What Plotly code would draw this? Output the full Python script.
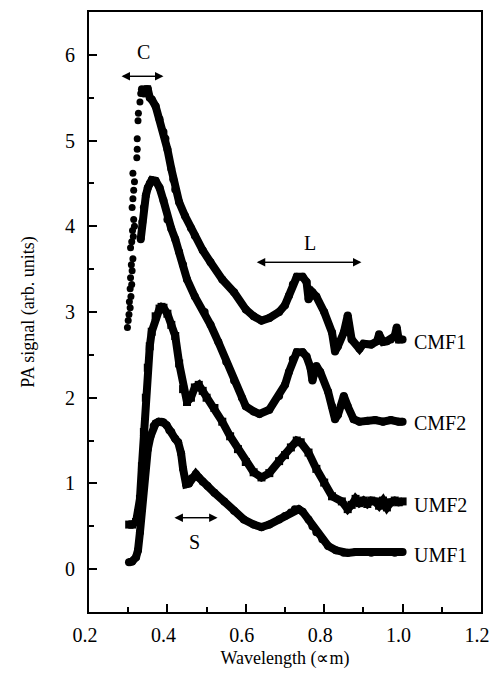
import plotly.graph_objects as go

# ---- data ----
cmf1_rise_x = [0.298, 0.300, 0.302, 0.305, 0.303, 0.307, 0.305, 0.309, 0.306, 0.310, 0.308, 0.312, 0.306,
               0.309, 0.313, 0.311, 0.316, 0.314, 0.310, 0.312, 0.314, 0.316, 0.312, 0.322, 0.323, 0.323,
               0.325, 0.326, 0.330, 0.332]
cmf1_rise_y = [2.82, 2.90, 2.97, 3.05, 3.12, 3.18, 3.27, 3.32, 3.40, 3.48, 3.55, 3.62, 3.75,
               3.82, 3.88, 3.95, 4.00, 4.08, 4.22, 4.32, 4.42, 4.52, 4.62, 4.80, 4.90, 5.02,
               5.23, 5.32, 5.45, 5.55]

cmf1_x = [0.335, 0.340, 0.346, 0.350, 0.355, 0.360, 0.370, 0.380, 0.390, 0.395, 0.400, 0.410, 0.415, 0.420,
          0.430, 0.445, 0.460, 0.470, 0.490, 0.510, 0.540, 0.570, 0.600, 0.620, 0.640, 0.660, 0.685, 0.700,
          0.710, 0.720, 0.730, 0.745, 0.755, 0.760, 0.770, 0.780, 0.800, 0.820, 0.8275, 0.835, 0.850, 0.860,
          0.870, 0.890, 0.900, 0.920, 0.935, 0.940, 0.950, 0.960, 0.970, 0.980, 0.985, 0.990, 1.000]
cmf1_y = [5.60, 5.55, 5.60, 5.60, 5.50, 5.48, 5.40, 5.25, 5.10, 5.02, 4.90, 4.67, 4.55, 4.43,
          4.28, 4.12, 3.98, 3.89, 3.72, 3.58, 3.38, 3.23, 3.03, 2.95, 2.90, 2.93, 3.00, 3.08,
          3.19, 3.32, 3.41, 3.41, 3.35, 3.15, 3.23, 3.18, 3.00, 2.76, 2.54, 2.60, 2.76, 2.96,
          2.68, 2.57, 2.63, 2.62, 2.66, 2.74, 2.65, 2.66, 2.68, 2.72, 2.82, 2.68, 2.68]

cmf2_x = [0.332, 0.336, 0.340, 0.345, 0.350, 0.355, 0.360, 0.370, 0.380, 0.390, 0.400, 0.410, 0.420,
          0.430, 0.440, 0.450, 0.470, 0.495, 0.510, 0.530, 0.550, 0.570, 0.590, 0.600, 0.620, 0.635, 0.660,
          0.685, 0.700, 0.710, 0.720, 0.730, 0.745, 0.755, 0.765, 0.770, 0.780, 0.790, 0.810, 0.820, 0.8275,
          0.835, 0.850, 0.860, 0.875, 0.890, 0.910, 0.930, 0.950, 0.970, 0.990, 1.000]
cmf2_y = [3.85, 4.05, 4.22, 4.36, 4.45, 4.50, 4.54, 4.53, 4.45, 4.30, 4.08, 3.97, 3.85,
          3.70, 3.55, 3.38, 3.18, 3.00, 2.85, 2.65, 2.42, 2.20, 2.00, 1.90, 1.84, 1.81, 1.86,
          2.02, 2.15, 2.30, 2.45, 2.53, 2.53, 2.48, 2.35, 2.20, 2.37, 2.30, 2.07, 1.90, 1.75,
          1.80, 2.02, 1.90, 1.75, 1.72, 1.73, 1.74, 1.72, 1.74, 1.72, 1.72]

umf2_x = [0.3025, 0.310, 0.320, 0.325, 0.330, 0.335, 0.340, 0.345, 0.350, 0.355, 0.360, 0.370, 0.380, 0.385,
          0.390, 0.400, 0.410, 0.420, 0.430, 0.440, 0.450, 0.460, 0.470, 0.480, 0.490, 0.500, 0.520, 0.540,
          0.560, 0.580, 0.600, 0.620, 0.640, 0.660, 0.685, 0.700, 0.715, 0.730, 0.740, 0.760, 0.780, 0.800,
          0.820, 0.845, 0.860, 0.870, 0.880, 0.890, 0.900, 0.910, 0.920, 0.930, 0.940, 0.950, 0.960, 0.970,
          0.980, 0.990, 1.000]
umf2_y = [0.52, 0.52, 0.55, 0.65, 0.82, 1.20, 1.60, 2.00, 2.35, 2.60, 2.77, 2.95, 3.04, 3.06,
          3.05, 2.98, 2.85, 2.72, 2.40, 2.10, 1.95, 2.00, 2.12, 2.15, 2.08, 2.00, 1.88, 1.72,
          1.55, 1.40, 1.25, 1.13, 1.07, 1.12, 1.26, 1.33, 1.42, 1.50, 1.48, 1.36, 1.17, 1.01,
          0.85, 0.79, 0.70, 0.75, 0.82, 0.77, 0.80, 0.76, 0.80, 0.79, 0.74, 0.80, 0.72, 0.78,
          0.80, 0.78, 0.79]

umf1_x = [0.302, 0.310, 0.320, 0.325, 0.330, 0.335, 0.340, 0.345, 0.350, 0.357, 0.365, 0.370, 0.378, 0.385,
          0.390, 0.398, 0.405, 0.410, 0.420, 0.4275, 0.435, 0.440, 0.4475, 0.455, 0.462, 0.4725, 0.480, 0.490,
          0.5025, 0.520, 0.545, 0.570, 0.595, 0.620, 0.640, 0.660, 0.685, 0.700, 0.715, 0.725, 0.735, 0.745,
          0.760, 0.770, 0.780, 0.795, 0.810, 0.830, 0.850, 0.860, 0.880, 0.900, 0.920, 0.940, 0.960, 0.980,
          1.000]
umf1_y = [0.08, 0.09, 0.14, 0.22, 0.43, 0.70, 1.01, 1.20, 1.40, 1.55, 1.67, 1.70, 1.72, 1.72,
          1.71, 1.68, 1.62, 1.60, 1.52, 1.48, 1.35, 1.17, 0.99, 1.00, 1.06, 1.11, 1.07, 1.02,
          0.97, 0.89, 0.79, 0.68, 0.58, 0.52, 0.49, 0.52, 0.58, 0.62, 0.66, 0.70, 0.70, 0.67,
          0.58, 0.50, 0.43, 0.35, 0.27, 0.22, 0.19, 0.19, 0.20, 0.20, 0.19, 0.20, 0.20, 0.19,
          0.20]

series_names = ["CMF1", "CMF2", "UMF2", "UMF1"]
label_y = [2.65, 1.70, 0.75, 0.17]

x_ticks = [0.2, 0.4, 0.6, 0.8, 1.0, 1.2]
y_ticks = [0, 1, 2, 3, 4, 5, 6]

FONT = "Liberation Serif"
BLACK = "#000000"
LW = 8

fig = go.Figure()

def add_curve(x, y, symbol="circle"):
    fig.add_trace(go.Scatter(
        x=x, y=y, mode="lines+markers",
        line=dict(color=BLACK, width=LW),
        marker=dict(color=BLACK, size=LW, symbol=symbol),
        showlegend=False, hoverinfo="skip"))

add_curve(cmf1_x, cmf1_y)
fig.add_trace(go.Scatter(x=cmf1_rise_x, y=cmf1_rise_y, mode="markers",
                         marker=dict(color=BLACK, size=7), showlegend=False, hoverinfo="skip"))
add_curve(cmf2_x, cmf2_y)
add_curve(umf2_x, umf2_y, symbol="square")
add_curve(umf1_x, umf1_y)

annotations = []
for name, ly in zip(series_names, label_y):
    annotations.append(dict(x=1.025, y=ly, xref="x", yref="y", text=name, showarrow=False,
                            xanchor="left", yanchor="middle", font=dict(family=FONT, size=20, color=BLACK)))

# double-headed arrows with letters
def double_arrow(x0, x1, y, label, lx, ly):
    for xa, xb in ((x0, x1), (x1, x0)):
        annotations.append(dict(x=xa, y=y, ax=xb, ay=y, xref="x", yref="y", axref="x", ayref="y",
                                text="", showarrow=True, arrowhead=2, arrowsize=1.3, arrowwidth=1.3,
                                arrowcolor=BLACK))
    annotations.append(dict(x=lx, y=ly, xref="x", yref="y", text=label, showarrow=False,
                            font=dict(family=FONT, size=20, color=BLACK)))

double_arrow(0.283, 0.39, 5.75, "C", 0.34, 6.03)
double_arrow(0.628, 0.895, 3.58, "L", 0.765, 3.80)
double_arrow(0.418, 0.528, 0.60, "S", 0.47, 0.32)

fig.update_layout(
    width=499, height=676,
    margin=dict(l=89, r=9, t=12, b=64),
    paper_bgcolor="white", plot_bgcolor="white",
    font=dict(family=FONT, size=20, color=BLACK),
    annotations=annotations,
    xaxis=dict(range=[0.2, 1.2], tickvals=x_ticks, ticktext=[f"{v:.1f}" for v in x_ticks],
               ticks="inside", ticklen=8, tickwidth=1.5, tickcolor=BLACK,
               minor=dict(dtick=0.1, ticks="inside", ticklen=5, tickwidth=1.5, tickcolor=BLACK),
               showline=True, linewidth=2, linecolor=BLACK, mirror=True, showgrid=False, zeroline=False,
               tickfont=dict(family=FONT, size=20), ticklabelshift=-4, ticklabelstandoff=4,
               title=dict(text="Wavelength (∝m)", font=dict(family=FONT, size=18), standoff=6)),
    yaxis=dict(range=[-0.5, 6.5], tickvals=y_ticks, ticks="inside", ticklen=8, tickwidth=1.5, tickcolor=BLACK,
               minor=dict(dtick=0.5, ticks="inside", ticklen=5, tickwidth=1.5, tickcolor=BLACK),
               showline=True, linewidth=2, linecolor=BLACK, mirror=True, showgrid=False, zeroline=False,
               tickfont=dict(family=FONT, size=20), ticklabelstandoff=8,
               title=dict(text="PA signal (arb. units)", font=dict(family=FONT, size=18), standoff=26)),
)

fig.write_html("out.html", config={"displayModeBar": False},
               post_script="document.body.style.margin='0';")
